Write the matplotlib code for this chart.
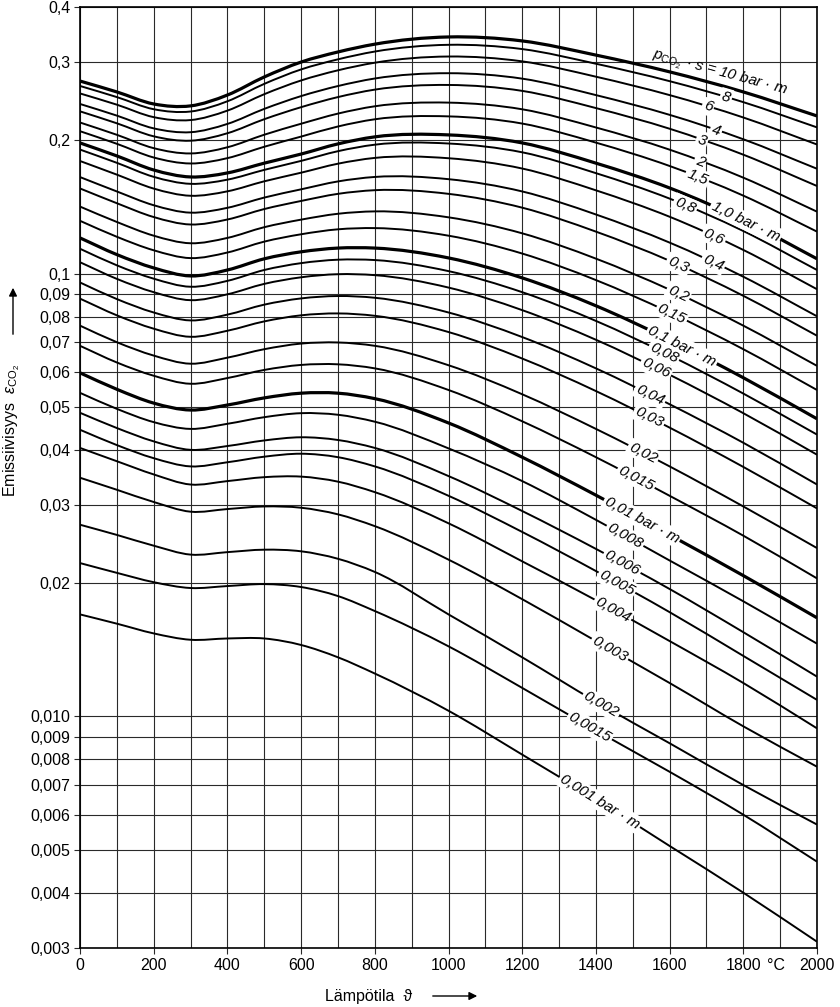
import numpy as np
import matplotlib.pyplot as plt
from matplotlib.patches import FancyArrowPatch, PathPatch
from matplotlib.path import Path
from matplotlib.ticker import NullLocator, NullFormatter

plt.rcParams['font.family'] = ['Liberation Sans', 'DejaVu Sans']
plt.rcParams['mathtext.fontset'] = 'custom'
plt.rcParams['mathtext.rm'] = 'Liberation Sans'
plt.rcParams['mathtext.it'] = 'Liberation Sans:italic'
plt.rcParams['mathtext.bf'] = 'Liberation Sans:bold'

# temperature (deg C) where the curves were read
temps = [0, 100, 200, 300, 400, 500, 600, 700, 800, 1000, 1200, 1400, 1600, 1800, 2000]

# emissivity of CO2, one list per p*s value (bar m)
e_10 = [0.2722, 0.2572, 0.2416, 0.2392, 0.2531, 0.2780, 0.3004, 0.3166, 0.3297, 0.3423, 0.3353, 0.3115, 0.2855, 0.2572, 0.2270]
e_8 = [0.2653, 0.2504, 0.2351, 0.2323, 0.2450, 0.2682, 0.2891, 0.3047, 0.3173, 0.3286, 0.3214, 0.2978, 0.2720, 0.2439, 0.2139]
e_6 = [0.2552, 0.2407, 0.2256, 0.2222, 0.2334, 0.2542, 0.2730, 0.2878, 0.2994, 0.3092, 0.3015, 0.2784, 0.2530, 0.2252, 0.1957]
e_4 = [0.2416, 0.2274, 0.2128, 0.2086, 0.2178, 0.2355, 0.2517, 0.2652, 0.2758, 0.2835, 0.2756, 0.2530, 0.2283, 0.2011, 0.1725]
e_3 = [0.2325, 0.2185, 0.2042, 0.1996, 0.2075, 0.2232, 0.2376, 0.2504, 0.2603, 0.2667, 0.2586, 0.2365, 0.2124, 0.1856, 0.1577]
e_2 = [0.2194, 0.2058, 0.1920, 0.1868, 0.1929, 0.2059, 0.2180, 0.2298, 0.2387, 0.2433, 0.2350, 0.2138, 0.1905, 0.1647, 0.1380]
e_1_5 = [0.2097, 0.1964, 0.1829, 0.1773, 0.1823, 0.1934, 0.2039, 0.2149, 0.2231, 0.2265, 0.2182, 0.1976, 0.1750, 0.1500, 0.1244]
e_1_0 = [0.1973, 0.1844, 0.1714, 0.1653, 0.1688, 0.1776, 0.1862, 0.1963, 0.2036, 0.2057, 0.1973, 0.1776, 0.1561, 0.1322, 0.1080]
e_0_8 = [0.1906, 0.1779, 0.1654, 0.1595, 0.1630, 0.1715, 0.1797, 0.1890, 0.1955, 0.1967, 0.1879, 0.1686, 0.1477, 0.1248, 0.1019]
e_0_6 = [0.1796, 0.1673, 0.1556, 0.1499, 0.1534, 0.1616, 0.1690, 0.1771, 0.1825, 0.1822, 0.1727, 0.1542, 0.1344, 0.1131, 0.0922]
e_0_4 = [0.1652, 0.1533, 0.1427, 0.1373, 0.1408, 0.1485, 0.1550, 0.1615, 0.1653, 0.1634, 0.1533, 0.1360, 0.1175, 0.0984, 0.0801]
e_0_3 = [0.1557, 0.1442, 0.1342, 0.1291, 0.1325, 0.1399, 0.1459, 0.1514, 0.1543, 0.1514, 0.1409, 0.1244, 0.1069, 0.0891, 0.0724]
e_0_2 = [0.1417, 0.1308, 0.1218, 0.1171, 0.1204, 0.1273, 0.1324, 0.1365, 0.1382, 0.1340, 0.1233, 0.1081, 0.0920, 0.0763, 0.0619]
e_0_15 = [0.1316, 0.1211, 0.1129, 0.1084, 0.1116, 0.1181, 0.1227, 0.1259, 0.1267, 0.1218, 0.1110, 0.0967, 0.0817, 0.0675, 0.0546]
e_0_1 = [0.1204, 0.1104, 0.1030, 0.0988, 0.1019, 0.1080, 0.1120, 0.1142, 0.1142, 0.1085, 0.0978, 0.0846, 0.0709, 0.0582, 0.0470]
e_0_08 = [0.1138, 0.1044, 0.0974, 0.0934, 0.0963, 0.1019, 0.1056, 0.1075, 0.1073, 0.1013, 0.0908, 0.0782, 0.0654, 0.0536, 0.0433]
e_0_06 = [0.1061, 0.0973, 0.0908, 0.0871, 0.0898, 0.0948, 0.0981, 0.0997, 0.0992, 0.0930, 0.0827, 0.0709, 0.0591, 0.0484, 0.0390]
e_0_04 = [0.0955, 0.0876, 0.0817, 0.0784, 0.0808, 0.0851, 0.0879, 0.0890, 0.0882, 0.0817, 0.0719, 0.0611, 0.0507, 0.0415, 0.0334]
e_0_03 = [0.0878, 0.0805, 0.0751, 0.0720, 0.0743, 0.0780, 0.0805, 0.0813, 0.0803, 0.0738, 0.0643, 0.0543, 0.0449, 0.0366, 0.0295]
e_0_02 = [0.0763, 0.0700, 0.0653, 0.0626, 0.0646, 0.0675, 0.0695, 0.0699, 0.0687, 0.0621, 0.0534, 0.0446, 0.0367, 0.0298, 0.0240]
e_0_015 = [0.0687, 0.0630, 0.0588, 0.0564, 0.0581, 0.0606, 0.0622, 0.0624, 0.0611, 0.0546, 0.0464, 0.0385, 0.0315, 0.0256, 0.0205]
e_0_01 = [0.0597, 0.0548, 0.0510, 0.0492, 0.0505, 0.0524, 0.0537, 0.0537, 0.0522, 0.0460, 0.0385, 0.0316, 0.0257, 0.0208, 0.0167]
e_0_008 = [0.0538, 0.0495, 0.0462, 0.0446, 0.0458, 0.0474, 0.0484, 0.0480, 0.0463, 0.0403, 0.0340, 0.0278, 0.0225, 0.0182, 0.0146]
e_0_006 = [0.0485, 0.0448, 0.0418, 0.0400, 0.0408, 0.0420, 0.0427, 0.0421, 0.0404, 0.0349, 0.0291, 0.0239, 0.0194, 0.0155, 0.0123]
e_0_005 = [0.0444, 0.0410, 0.0383, 0.0367, 0.0375, 0.0386, 0.0392, 0.0385, 0.0367, 0.0315, 0.0261, 0.0213, 0.0172, 0.0137, 0.0109]
e_0_004 = [0.0404, 0.0377, 0.0352, 0.0334, 0.0340, 0.0347, 0.0348, 0.0339, 0.0321, 0.0273, 0.0224, 0.0183, 0.0148, 0.0119, 0.0094]
e_0_003 = [0.0346, 0.0325, 0.0305, 0.0290, 0.0294, 0.0298, 0.0296, 0.0286, 0.0269, 0.0226, 0.0184, 0.0148, 0.0119, 0.0095, 0.0077]
e_0_002 = [0.0271, 0.0257, 0.0243, 0.0232, 0.0235, 0.0238, 0.0236, 0.0227, 0.0212, 0.0170, 0.0136, 0.0108, 0.0087, 0.0070, 0.0057]
e_0_0015 = [0.0222, 0.0211, 0.0201, 0.0195, 0.0197, 0.0199, 0.0196, 0.0187, 0.0173, 0.0144, 0.0116, 0.0093, 0.0075, 0.0060, 0.0047]
e_0_001 = [0.0170, 0.0162, 0.0154, 0.0149, 0.0150, 0.0150, 0.0145, 0.0136, 0.0125, 0.0103, 0.0082, 0.0065, 0.0051, 0.0040, 0.0031]

# curve labels and the temperature where each label sits
ps_labels = [r'$p_{\mathrm{CO}_2}$ · s = 10 bar · m', '8', '6', '4', '3', '2', '1,5', '1,0 bar · m',
             '0,8', '0,6', '0,4', '0,3', '0,2', '0,15', '0,1 bar · m',
             '0,08', '0,06', '0,04', '0,03', '0,02', '0,015', '0,01 bar · m',
             '0,008', '0,006', '0,005', '0,004', '0,003', '0,002', '0,0015', '0,001 bar · m']
label_temps = [1737, 1753, 1704, 1726, 1688, 1683, 1675, 1807,
               1642, 1720, 1718, 1623, 1623, 1606, 1634,
               1585, 1563, 1547, 1544, 1528, 1509, 1525,
               1479, 1471, 1457, 1446, 1438, 1414, 1384, 1411]

y_ticks = [0.003, 0.004, 0.005, 0.006, 0.007, 0.008, 0.009, 0.010,
           0.02, 0.03, 0.04, 0.05, 0.06, 0.07, 0.08, 0.09, 0.1, 0.2, 0.3, 0.4]
y_ticklabels = ['0,003', '0,004', '0,005', '0,006', '0,007', '0,008', '0,009', '0,010',
                '0,02', '0,03', '0,04', '0,05', '0,06', '0,07', '0,08', '0,09', '0,1', '0,2', '0,3', '0,4']
x_ticks = [0, 200, 400, 600, 800, 1000, 1200, 1400, 1600, 1800, 2000]

curves = [e_10, e_8, e_6, e_4, e_3, e_2, e_1_5, e_1_0,
          e_0_8, e_0_6, e_0_4, e_0_3, e_0_2, e_0_15, e_0_1,
          e_0_08, e_0_06, e_0_04, e_0_03, e_0_02, e_0_015, e_0_01,
          e_0_008, e_0_006, e_0_005, e_0_004, e_0_003, e_0_002, e_0_0015, e_0_001]
thick = [0, 7, 14, 21]  # 10, 1, 0.1 and 0.01 bar m drawn heavier


def smooth_path(xs, ys):
    # cubic hermite through the read points, drawn as bezier (x / log y)
    x = np.asarray(xs, float)
    ly = np.log10(ys)
    h = np.diff(x)
    d = np.diff(ly) / h
    m = np.empty_like(ly)
    m[0] = d[0]
    m[-1] = d[-1]
    m[1:-1] = (d[:-1] * h[1:] + d[1:] * h[:-1]) / (h[:-1] + h[1:])
    verts = [(x[0], ys[0])]
    codes = [Path.MOVETO]
    for i in range(len(x) - 1):
        c1 = (x[i] + h[i] / 3, 10 ** (ly[i] + m[i] * h[i] / 3))
        c2 = (x[i + 1] - h[i] / 3, 10 ** (ly[i + 1] - m[i + 1] * h[i] / 3))
        verts += [c1, c2, (x[i + 1], ys[i + 1])]
        codes += [Path.CURVE4] * 3
    return Path(verts, codes)


fig = plt.figure(figsize=(8.4, 10.07), dpi=100)
ax = fig.add_axes([80 / 840, 59 / 1007, 737 / 840, 941 / 1007])
ax.set_yscale('log')
ax.set_xlim(0, 2000)
ax.set_ylim(0.003, 0.4)

for i, vals in enumerate(curves):
    ax.add_patch(PathPatch(smooth_path(temps, vals), fill=False, ec='black',
                           lw=2.3 if i in thick else 1.4, zorder=3))

ax.yaxis.set_minor_locator(NullLocator())
ax.yaxis.set_minor_formatter(NullFormatter())
ax.set_yticks(y_ticks)
ax.set_yticklabels(y_ticklabels)
ax.set_xticks(x_ticks)
ax.set_xticklabels([str(t) for t in x_ticks])
ax.set_xticks(range(100, 2000, 200), minor=True)
ax.grid(True, which='both', color='#2a2a2a', lw=0.8, zorder=1)
ax.tick_params(which='major', length=4, width=0.8, labelsize=11.5, pad=3, color='#2a2a2a')
ax.tick_params(which='minor', length=0)
for s in ax.spines.values():
    s.set_linewidth(1.2)

# "°C" after the 1800 label
ax.annotate('°C', xy=(1800, 0.003), xytext=(17, -7), textcoords='offset points',
            ha='left', va='top', fontsize=11.5, annotation_clip=False)

# labels along the curves
for vals, text, tl in zip(curves, ps_labels, label_temps):
    lv = np.log10(vals)
    yl = 10 ** np.interp(tl, temps, lv)
    p1 = ax.transData.transform((tl - 60, 10 ** np.interp(tl - 60, temps, lv)))
    p2 = ax.transData.transform((tl + 60, 10 ** np.interp(tl + 60, temps, lv)))
    ang = np.degrees(np.arctan2(p2[1] - p1[1], p2[0] - p1[0]))
    if text.startswith('$p'):
        ax.annotate(text, xy=(tl, yl), xytext=(0, 9), textcoords='offset points',
                    rotation=ang, rotation_mode='anchor', ha='center', va='center',
                    fontsize=11, fontstyle='italic', zorder=5)
    else:
        ax.text(tl, yl, text, rotation=ang, rotation_mode='anchor', ha='center', va='center',
                fontsize=11, fontstyle='italic', zorder=5,
                bbox=dict(boxstyle='square,pad=0.12', fc='white', ec='none'))

# axis titles with arrows
fig.text(12 / 840, 1 - 431 / 1007, r'Emissiivisyys  $\varepsilon_{\mathrm{CO}_2}$', rotation=90,
         ha='center', va='center', fontsize=11.5)
fig.add_artist(FancyArrowPatch((13 / 840, 1 - 337 / 1007), (13 / 840, 1 - 285 / 1007),
                               transform=fig.transFigure, arrowstyle='-|>', mutation_scale=12,
                               lw=1, color='black'))
fig.text(369 / 840, 1 - 996 / 1007, 'Lämpötila  ϑ', ha='center', va='center', fontsize=11.5)
fig.add_artist(FancyArrowPatch((430 / 840, 1 - 996 / 1007), (480 / 840, 1 - 996 / 1007),
                               transform=fig.transFigure, arrowstyle='-|>', mutation_scale=12,
                               lw=1, color='black'))

fig.savefig('out.png', dpi=100)
